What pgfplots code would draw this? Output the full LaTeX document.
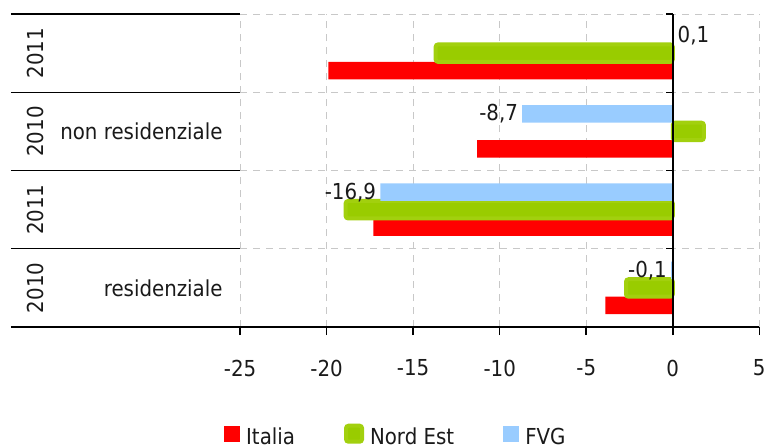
\documentclass[border=0pt]{standalone}
\usepackage{fontspec}
\setmainfont{DejaVu Sans}[FakeStretch=0.9]
\usepackage{pgfplots}
\pgfplotsset{compat=1.18}
\definecolor{cRed}{HTML}{FF0000}
\definecolor{cGreen}{HTML}{99CC00}
\definecolor{cGreenB}{HTML}{A2D00E}
\definecolor{cBlue}{HTML}{99CCFF}
\definecolor{cGrid}{HTML}{C8C8C8}
\definecolor{cText}{HTML}{1A1A1A}
\pgfplotsset{sq legend/.style={legend image code/.code={\fill[##1] (0bp,-4bp) rectangle (16bp,12bp); \path (20bp,0bp);}}}
\begin{document}
\fontsize{22bp}{26bp}\selectfont
\begin{tikzpicture}
\begin{axis}[
  scale only axis, width=519bp, height=313bp,
  xmin=-25, xmax=5, ymin=-0.5, ymax=3.5,
  clip=false,
  axis line style={draw=none},
  xtick={-25,-20,-15,-10,-5,0,5},
  xticklabels={-25,-20,-15,-10,-5,0,5},
  xtick pos=left,
  tick align=outside,
  major tick length=8bp,
  x tick style={black, line width=1.5bp},
  xticklabel style={text=cText, yshift=-17bp},
  ytick={0.5,1.5,2.5,3.5},
  yticklabels={},
  y tick style={draw=none},
  xmajorgrids, ymajorgrids,
  grid style={cGrid, dash pattern=on 7bp off 6bp, line width=0.9bp},
  xbar, bar width=0.2235,
  legend style={draw=none, fill=none, at={(axis description cs:0.30,-0.35)}, anchor=center,
    legend columns=3, text=cText,
    /tikz/every even column/.append style={column sep=47bp}},
]
\addplot[sq legend, fill=cRed, draw=none, bar shift=-0.2235] coordinates {
  (-3.9,0) (-17.3,1) (-11.3,2) (-19.9,3)};
\addlegendentry{Italia}
\addplot[sq legend, fill=cGreen, draw=cGreenB, line width=4bp, rounded corners=2.5bp, bar shift=0] coordinates {
  (-2.7,0) (-18.9,1) (1.8,2) (-13.7,3)};
\addlegendentry{Nord Est}
\addplot[sq legend, fill=cBlue, draw=none, bar shift=0.2235,
  point meta=explicit symbolic, nodes near coords,
  every node near coord/.append style={text=cText, anchor=east, inner sep=4bp}] coordinates {
  (-0.1,0) [-0,1] (-16.9,1) [-16,9] (-8.7,2) [-8,7]};
\addlegendentry{FVG}
\addplot[forget plot, fill=cBlue, draw=none, bar shift=0.2235,
  point meta=explicit symbolic, nodes near coords,
  every node near coord/.append style={text=cText, anchor=west, inner sep=3bp}] coordinates {
  (0.1,3) [0,1]};
% category separators and axis lines
\pgfplotsinvokeforeach{0.5,1.5,2.5,3.5}{
  \draw[black, line width=1.3bp] ([xshift=-229bp]axis cs:-25,#1) -- (axis cs:-25,#1);
  \draw[black, line width=1.3bp] (axis cs:0,#1) -- ([xshift=-7bp]axis cs:0,#1);
}
\draw[black, line width=2bp] ([xshift=-229bp]axis cs:-25,-0.5) -- (axis cs:5,-0.5);
\draw[black, line width=1.5bp] (axis cs:0,-0.5) -- (axis cs:0,3.5);
% category labels
\node[rotate=90, text=cText] at ([xshift=-204.5bp]axis cs:-25,3) {2011};
\node[rotate=90, text=cText] at ([xshift=-204.5bp]axis cs:-25,2) {2010};
\node[rotate=90, text=cText] at ([xshift=-204.5bp]axis cs:-25,1) {2011};
\node[rotate=90, text=cText] at ([xshift=-204.5bp]axis cs:-25,0) {2010};
\node[anchor=east, text=cText] at ([xshift=-10bp]axis cs:-25,2) {non residenziale};
\node[anchor=east, text=cText] at ([xshift=-10bp]axis cs:-25,0) {residenziale};
\coordinate (bl) at (rel axis cs:0,0);
\coordinate (tr) at (rel axis cs:1,1);
\end{axis}
\pgfresetboundingbox
\path ([xshift=-240bp,yshift=-119bp]bl) rectangle ([xshift=5.7bp,yshift=14bp]tr);
\end{tikzpicture}
\end{document}
